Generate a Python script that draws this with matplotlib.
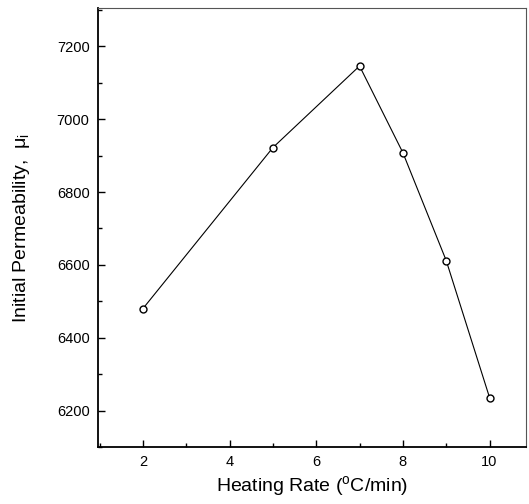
import matplotlib
matplotlib.use("Agg")
import matplotlib.pyplot as plt
from matplotlib.ticker import MultipleLocator

# data
heating_rate = [2, 5, 7, 8, 9, 10]
permeability = [6480, 6922, 7146, 6908, 6612, 6236]

plt.rcParams["font.family"] = ["Liberation Sans", "DejaVu Sans"]

fig = plt.figure(figsize=(5.29, 5.04), dpi=100)
ax = fig.add_axes([0.185, 0.113, 0.81, 0.871])

ax.plot(heating_rate, permeability, color="black", linewidth=0.8,
        marker="o", markersize=5, markerfacecolor="white",
        markeredgecolor="black", markeredgewidth=1.0)

ax.set_xlim(0.96, 10.85)
ax.set_ylim(6100, 7305)

ax.xaxis.set_major_locator(MultipleLocator(2))
ax.xaxis.set_minor_locator(MultipleLocator(1))
ax.yaxis.set_major_locator(MultipleLocator(200))
ax.yaxis.set_minor_locator(MultipleLocator(100))

ax.tick_params(which="both", direction="in", top=False, right=False,
               labelsize=10.5, width=1.0)
ax.tick_params(which="major", length=5, pad=6)
ax.tick_params(which="minor", length=3)

for side in ["left", "bottom"]:
    ax.spines[side].set_linewidth(1.3)
for side in ["top", "right"]:
    ax.spines[side].set_linewidth(0.8)
    ax.spines[side].set_color("#555555")

ax.set_xlabel("Heating Rate ($\\mathregular{^o}$C/min)", fontsize=14, labelpad=3)
ax.set_ylabel("Initial Permeability,  $\\mathregular{\\mu_i}$", fontsize=14, labelpad=18)

fig.savefig("out.png", dpi=100)
